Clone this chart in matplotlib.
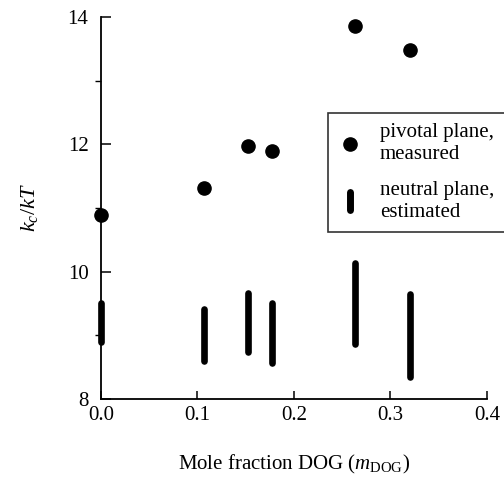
import matplotlib
matplotlib.use("Agg")
import matplotlib.pyplot as plt
from matplotlib.lines import Line2D
from matplotlib.markers import MarkerStyle

plt.rcParams['font.family'] = ['Liberation Serif', 'DejaVu Serif']
plt.rcParams['mathtext.fontset'] = 'custom'
plt.rcParams['mathtext.rm'] = 'Liberation Serif'
plt.rcParams['mathtext.it'] = 'Liberation Serif:italic'

# mole fraction DOG
x_dog = [0.0, 0.107, 0.152, 0.177, 0.263, 0.320]
# pivotal plane, measured
kc_pivotal = [10.89, 11.32, 11.98, 11.90, 13.86, 13.48]
# neutral plane, estimated (ranges)
kc_neutral_lo = [8.89, 8.60, 8.74, 8.56, 8.87, 8.35]
kc_neutral_hi = [9.51, 9.42, 9.67, 9.51, 10.14, 9.65]

fig = plt.figure(figsize=(5.04, 4.95), dpi=100)
ax = fig.add_axes([0.2004, 0.194, 0.7656, 0.7717])

ax.vlines(x_dog, kc_neutral_lo, kc_neutral_hi, colors='k', linewidth=4.8,
          capstyle='round', zorder=3, clip_on=False)
ax.plot(x_dog, kc_pivotal, 'o', color='k', markersize=9.5, zorder=4,
        clip_on=False)

ax.set_xlim(0.0, 0.4)
ax.set_ylim(8, 14)
ax.set_xticks([0.0, 0.1, 0.2, 0.3, 0.4])
ax.set_xticklabels(['0.0', '0.1', '0.2', '0.3', '0.4'])
ax.set_yticks([8, 10, 12, 14])
ax.set_yticks([9, 11, 13], minor=True)
ax.tick_params(direction='in', labelsize=15, width=1.1, colors='k')
ax.tick_params(axis='y', which='major', length=7, pad=9)
ax.tick_params(axis='y', which='minor', length=4, width=1.0)
ax.tick_params(axis='x', which='major', length=6, pad=5)
ax.spines['top'].set_visible(False)
ax.spines['right'].set_visible(False)
for s in ('left', 'bottom'):
    ax.spines[s].set_linewidth(1.3)

ax.set_ylabel(r'$k_c/kT$', fontsize=16, labelpad=20)
ax.set_xlabel(r'Mole fraction DOG ($m_{\mathrm{DOG}}$)', fontsize=15, labelpad=20)

handles = [
    Line2D([], [], marker='o', ls='none', color='k', markersize=9.5),
    Line2D([], [], marker=MarkerStyle('|', capstyle='round'), ls='none',
           color='k', markersize=13, markeredgewidth=5),
]
labels = ['pivotal plane,\nmeasured', 'neutral plane,\nestimated']
# box runs off the right edge of the page, as in the scan
leg = fig.legend(handles, labels, loc='upper left', mode='expand',
                 bbox_to_anchor=(328 / 504, 1 - 113 / 495, 200 / 504, 0.0),
                 bbox_transform=fig.transFigure, fontsize=15,
                 frameon=True, fancybox=False, edgecolor='k',
                 handlelength=1.1, handletextpad=0.9, labelspacing=0.8,
                 borderpad=0.5, borderaxespad=0.0)
leg.get_frame().set_linewidth(1.2)

fig.savefig('out.png', dpi=100)
